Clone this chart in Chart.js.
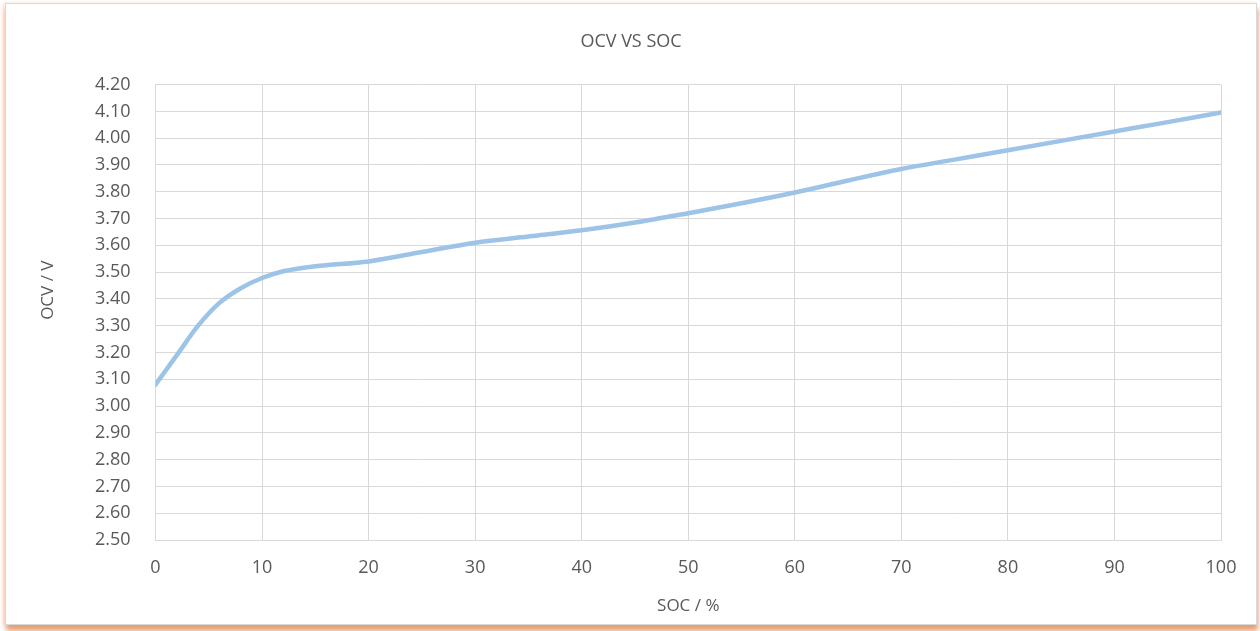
<!DOCTYPE html>
<html>
<head>
<meta charset="utf-8">
<script src="https://cdn.jsdelivr.net/npm/chart.js@4/dist/chart.umd.min.js"></script>
<style>
  html, body { margin: 0; padding: 0; background: #fff; width: 1260px; height: 631px; overflow: hidden; }
  .card {
    position: absolute; left: 5px; top: 3px; width: 1250px; height: 620px;
    border: 1px solid #d9d9d9; background: #fff;
    box-shadow: 1px 6px 5px rgba(225, 135, 85, 0.8), -2px 0 4px rgba(240, 185, 150, 0.4);
  }
  #chart { position: absolute; left: 0; top: 0; }
</style>
</head>
<body>
<div class="card"><canvas id="chart" width="1250" height="620"></canvas></div>
<script>
// ==================== DATOS OCV vs SOC ====================
const soc = [0, 2, 4, 6, 8, 10, 12, 15, 20, 25, 30, 35, 40, 45, 50, 55, 60, 65, 70, 75, 80, 85, 90, 95, 100];
const ocv = [3.08, 3.19, 3.30, 3.385, 3.44, 3.478, 3.503, 3.522, 3.54, 3.575, 3.61, 3.633, 3.656, 3.685, 3.72, 3.757, 3.797, 3.842, 3.885, 3.92, 3.955, 3.99, 4.025, 4.06, 4.096];

const tituloGrafico = 'OCV VS SOC';
const tituloX = 'SOC / %';
const tituloY = 'OCV / V';

const colorTexto = '#595959';
const colorGrid  = '#d9d9d9';
const fuente = "'Open Sans', 'Liberation Sans', sans-serif";

const puntos = soc.map((s, i) => ({ x: s, y: ocv[i] }));

const ctx = document.getElementById('chart').getContext('2d');
window.ocvChart = new Chart(ctx, {
    type: 'line',
    data: {
        datasets: [{
            label: 'OCV',
            data: puntos,
            borderColor: '#9dc3e6',
            borderWidth: 4.5,
            borderCapStyle: 'round',
            pointRadius: 0,
            cubicInterpolationMode: 'monotone',
            fill: false
        }]
    },
    options: {
        responsive: false,
        animation: false,
        layout: { padding: 0 },
        plugins: {
            legend: { display: false },
            tooltip: { enabled: false },
            title: {
                display: true,
                text: tituloGrafico,
                color: colorTexto,
                font: { family: fuente, size: 18, weight: 'normal' },
                padding: { top: 27, bottom: 32 }
            }
        },
        scales: {
            x: {
                type: 'linear',
                min: 0, max: 100,
                grid: { color: colorGrid, drawTicks: false },
                border: { color: colorGrid },
                ticks: { stepSize: 10, color: colorTexto, padding: 17, font: { family: fuente, size: 18 } },
                title: { display: true, text: tituloX, color: colorTexto, font: { family: fuente, size: 17 }, padding: { top: 0, bottom: 8 } },
                afterFit: s => { s.height = 84; }
            },
            y: {
                min: 2.5, max: 4.2,
                grid: { color: colorGrid, drawTicks: false },
                border: { color: colorGrid },
                ticks: { stepSize: 0.1, color: colorTexto, padding: 25, font: { family: fuente, size: 18 }, callback: v => Number(v).toFixed(2) },
                title: { display: true, text: '          ' + tituloY, color: colorTexto, font: { family: fuente, size: 17 }, padding: { top: 32, bottom: 0 } },
                afterFit: s => { s.width = 149.5; }
            },
            // margen derecho (mantiene el título centrado en la tarjeta)
            margen: {
                position: 'right',
                display: true,
                grid: { display: false },
                border: { display: false },
                ticks: { display: false },
                afterFit: s => { s.width = 35; }
            }
        }
    }
});
</script>
</body>
</html>
